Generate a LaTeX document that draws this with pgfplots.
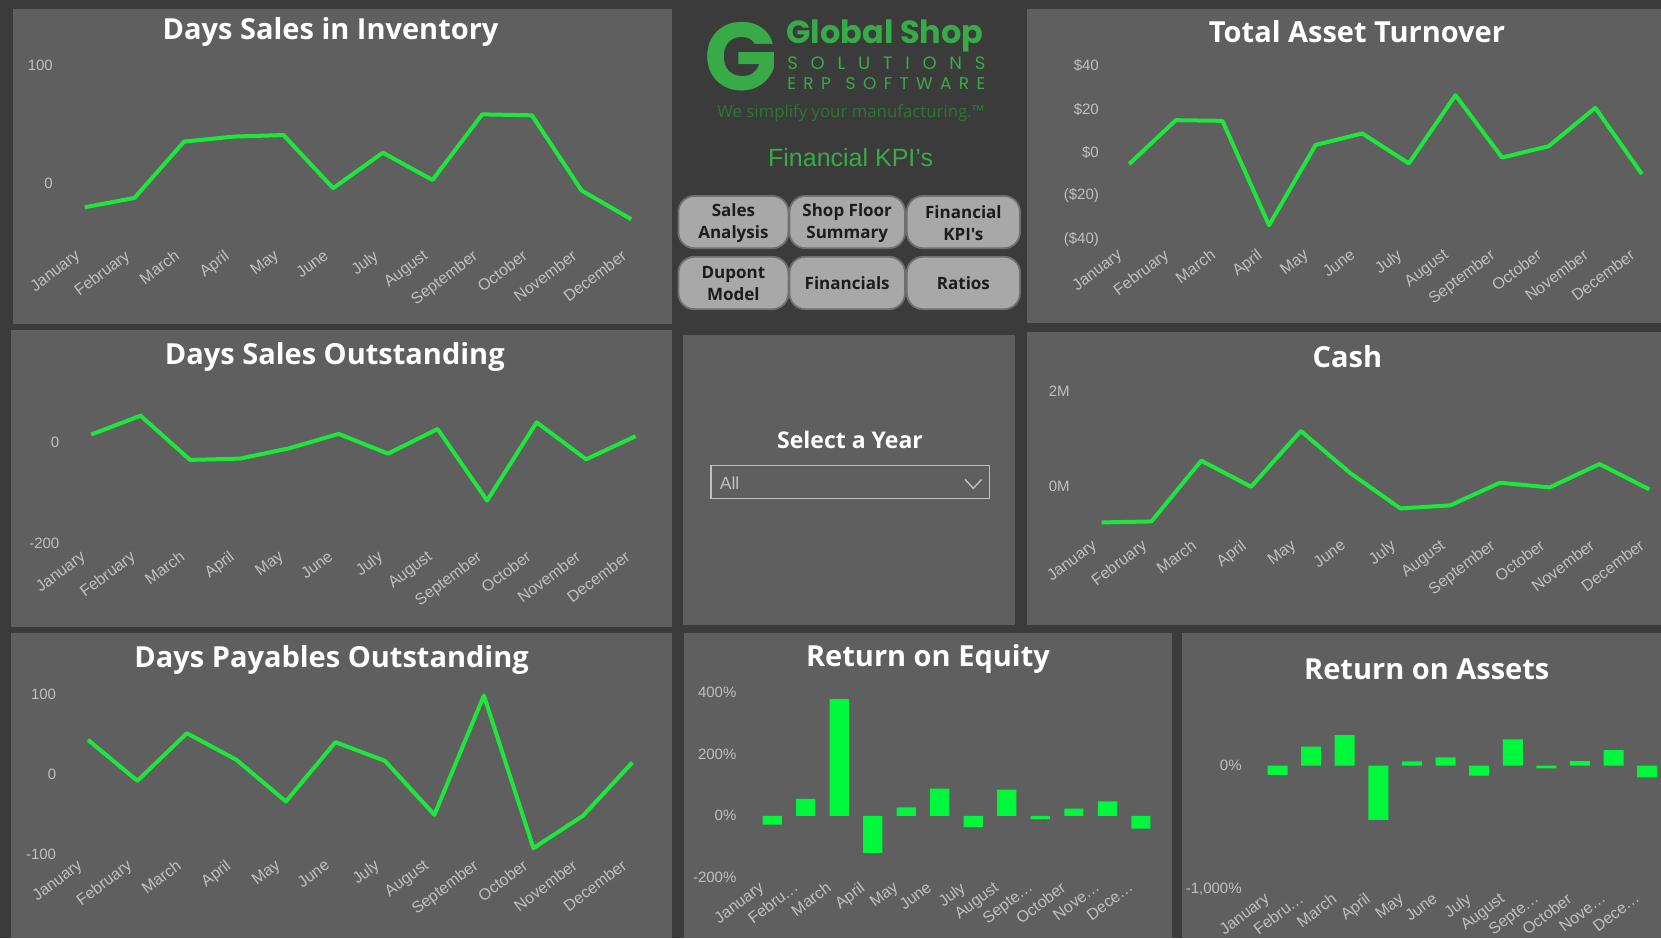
\documentclass[border=0pt]{standalone}
\usepackage{fontspec}
\setmainfont{Liberation Sans}
\newfontfamily\osans{Open Sans}
\newfontfamily\popp{Poppins}
\usepackage{pgfplots}
\pgfplotsset{compat=1.18}

\definecolor{bg}{RGB}{59,59,59}
\definecolor{panel}{RGB}{95,95,95}
\definecolor{kgreen}{RGB}{30,230,60}
\definecolor{kbar}{RGB}{0,248,60}
\definecolor{ticktxt}{RGB}{192,192,192}
\definecolor{logogreen}{RGB}{57,170,72}
\definecolor{taggreen}{RGB}{44,118,52}
\definecolor{btnfill}{RGB}{168,168,168}
\definecolor{btnedge}{RGB}{112,112,112}
\definecolor{btntxt}{RGB}{28,28,28}

\newcommand\tickf{\fontsize{7.5}{9}\selectfont}
\newcommand\xtickf{\fontsize{8}{9}\selectfont}
\newcommand\titf{\osans\bfseries\fontsize{14.5}{17}\selectfont}
\newcommand\btnf{\osans\bfseries\fontsize{8.5}{11}\selectfont}
\newcommand\dd{.\kern0.4pt.\kern0.4pt.}

\pgfplotsset{
 kpi/.style n args={2}{scale only axis, anchor=south west, clip=false,
   axis line style={draw=none}, tick style={draw=none}, major tick length=0pt,
   xmin=-0.5, xmax=11.5, xtick={0,...,11},
   xticklabels={January,February,March,April,May,June,July,August,September,October,November,December},
   ticklabel style={font=\tickf, text=ticktxt},
   xticklabel style={font=\xtickf, xshift=#1, yshift=#2, rotate=37, anchor=north east},
   yticklabel style={anchor=east},
 },
 kpibar/.style n args={2}{kpi={#1}{#2},
   xticklabels={January,Febru\dd,March,April,May,June,July,August,Septe\dd,October,Nove\dd,Dece\dd}},
 kl/.style={draw=kgreen, line width=2pt, line join=round, mark=none},
 kb/.style={ybar, bar width=9.6pt, fill=kbar, draw=none},
}

\begin{document}
\begin{tikzpicture}
\useasboundingbox (0,0) rectangle (830.5pt,469pt);
\fill[bg] (0,0) rectangle (830.5pt,469pt);
% panels
\fill[panel] (6.5pt,307pt) rectangle (336pt,464.5pt);
\fill[panel] (513.5pt,307.5pt) rectangle (830.5pt,464.5pt);
\fill[panel] (5.5pt,155.5pt) rectangle (336pt,304pt);
\fill[panel] (341.5pt,156.5pt) rectangle (507.5pt,301.5pt);
\fill[panel] (513.5pt,156.5pt) rectangle (830.5pt,303pt);
\fill[panel] (5.5pt,0pt) rectangle (336pt,152.5pt);
\fill[panel] (342pt,0pt) rectangle (586pt,152.5pt);
\fill[panel] (591pt,0pt) rectangle (830.5pt,152.5pt);

% titles
\node[text=white, font=\titf] at (165.3pt,453.1pt) {Days Sales in Inventory};
\node[text=white, font=\titf] at (678.5pt,453.1pt) {Total Asset Turnover};
\node[text=white, font=\titf] at (167.4pt,290.5pt) {Days Sales Outstanding};
\node[text=white, font=\titf] at (673.7pt,290.5pt) {Cash};
\node[text=white, font=\titf] at (165.8pt,139pt) {Days Payables Outstanding};
\node[text=white, font=\titf] at (464pt,139.5pt) {Return on Equity};
\node[text=white, font=\titf] at (713.4pt,134.2pt) {Return on Assets};

% logo
\node[text=logogreen, font=\popp\bfseries\fontsize{48}{48}\selectfont, inner sep=0] at (370.3pt,440.5pt) {G};
\node[anchor=base west, inner sep=0, text=logogreen, font=\popp\bfseries\fontsize{16}{16}\selectfont] at (393pt,447pt) {Global Shop};
\node[anchor=base west, inner sep=0, text=logogreen, font=\popp\fontsize{9}{9}\selectfont] at (393.5pt,434pt) {\makebox[99pt][s]{S\hfill O\hfill L\hfill U\hfill T\hfill I\hfill O\hfill N\hfill S}};
\node[anchor=base west, inner sep=0, text=logogreen, font=\popp\fontsize{8.5}{9}\selectfont] at (393.5pt,424pt) {\makebox[99pt][s]{E\hfill R\hfill P\hfill\hfill S\hfill O\hfill F\hfill T\hfill W\hfill A\hfill R\hfill E}};
\node[anchor=base west, inner sep=0, text=taggreen, font=\osans\fontsize{8.4}{9}\selectfont] at (358.5pt,410pt) {We simplify your manufacturing.™};
\node[text=logogreen, font=\fontsize{12.5}{14}\selectfont] at (425.3pt,390.1pt) {Financial KPI's};

% buttons
\begin{scope}[every path/.style={fill=btnfill, draw=btnedge, line width=0.9pt, rounded corners=8pt}]
\path (339.2pt,344.9pt) rectangle (394.2pt,371pt);
\path (394.7pt,344.9pt) rectangle (452.5pt,371pt);
\path (453.4pt,344.9pt) rectangle (510pt,371pt);
\path (339.2pt,314.4pt) rectangle (394.2pt,340.6pt);
\path (394.7pt,314.4pt) rectangle (452.5pt,340.6pt);
\path (453.4pt,314.4pt) rectangle (510pt,340.6pt);
\end{scope}
\node[align=center, text=btntxt, font=\btnf] at (366.7pt,357.4pt) {Sales\\Analysis};
\node[align=center, text=btntxt, font=\btnf] at (423.6pt,357.4pt) {Shop Floor\\Summary};
\node[align=center, text=btntxt, font=\btnf] at (481.7pt,357.4pt) {Financial\\KPI's};
\node[align=center, text=btntxt, font=\btnf] at (366.7pt,327pt) {Dupont\\Model};
\node[align=center, text=btntxt, font=\btnf] at (423.6pt,327.5pt) {Financials};
\node[align=center, text=btntxt, font=\btnf] at (481.7pt,327.5pt) {Ratios};

% slicer
\node[text=white, font=\osans\bfseries\fontsize{11.5}{13}\selectfont] at (425pt,249.3pt) {Select a Year};
\draw[ticktxt, line width=0.8pt] (355.5pt,219.7pt) rectangle (494.7pt,236.2pt);
\node[anchor=west, inner sep=0, text=ticktxt, font=\fontsize{8.8}{10}\selectfont] at (359.7pt,227.6pt) {All};
\draw[ticktxt, line width=0.7pt] (482.5pt,229.3pt) -- (486.65pt,224.8pt) -- (490.8pt,229.3pt);

% Days Sales in Inventory
\begin{axis}[kpi={-4.6pt}{-4.4pt}, at={(29.93pt,353.85pt)}, width=298.15pt, height=82.3pt,
  ymin=-40, ymax=100, ytick={0,100}, yticklabels={0,100}]
\addplot[kl] coordinates {(0,-20.4)(1,-12.5)(2,35.4)(3,39.7)(4,41)(5,-4.2)(6,26)(7,2.8)(8,58.6)(9,57.8)(10,-6.2)(11,-30.6)};
\end{axis}

% Total Asset Turnover
\begin{axis}[kpi={-5.8pt}{0.5pt}, at={(552.95pt,349.3pt)}, width=279.65pt, height=86.85pt,
  ymin=-40, ymax=40, ytick={-40,-20,0,20,40}, yticklabels={(\$40),(\$20),\$0,\$20,\$40}]
\addplot[kl] coordinates {(0,-5.3)(1,14.9)(2,14.6)(3,-33.5)(4,3.5)(5,8.8)(6,-5)(7,26.4)(8,-2.3)(9,2.9)(10,20.6)(11,-9.9)};
\end{axis}

% Days Sales Outstanding
\begin{axis}[kpi={-5pt}{1.7pt}, at={(33.18pt,197.3pt)}, width=297pt, height=75.45pt,
  ymin=-200, ymax=100, ytick={-200,0}, yticklabels={-200,0}]
\addplot[kl] coordinates {(0,16.4)(1,53.8)(2,-34)(3,-31.5)(4,-11)(5,17.7)(6,-21.6)(7,27.5)(8,-114.8)(9,40.7)(10,-32.8)(11,13.1)};
\end{axis}

% Cash (millions)
\begin{axis}[kpi={-4.7pt}{2.9pt}, at={(538.4pt,201.7pt)}, width=298.7pt, height=71.8pt,
  ymin=-1, ymax=2, ytick={0,2}, yticklabels={0M,2M}]
\addplot[kl] coordinates {(0,-0.746)(1,-0.725)(2,0.544)(3,0)(4,1.164)(5,0.279)(6,-0.453)(7,-0.39)(8,0.084)(9,-0.014)(10,0.474)(11,-0.056)};
\end{axis}

% Days Payables Outstanding
\begin{axis}[kpi={-5.1pt}{2.8pt}, at={(31.58pt,41.85pt)}, width=297pt, height=80.15pt,
  ymin=-100, ymax=100, ytick={-100,0,100}, yticklabels={-100,0,100}]
\addplot[kl] coordinates {(0,42.8)(1,-8.3)(2,51.1)(3,17.9)(4,-34.1)(5,39.9)(6,16.6)(7,-50.7)(8,98.1)(9,-92.3)(10,-52)(11,14.6)};
\end{axis}

% Return on Equity
\begin{axis}[kpibar={-6.3pt}{3.1pt}, at={(377.72pt,30.35pt)}, width=201.1pt, height=92.3pt,
  ymin=-200, ymax=400, ytick={-200,0,200,400}, yticklabels={-200\%,0\%,200\%,400\%},
  yticklabel style={xshift=-6pt}]
\addplot[kb] coordinates {(0,-29)(1,55)(2,379)(3,-121)(4,27)(5,88)(6,-37)(7,85)(8,-11)(9,23)(10,47)(11,-42)};
\end{axis}

% Return on Assets
\begin{axis}[kpibar={-6.3pt}{3.5pt}, at={(630.35pt,24.35pt)}, width=201.65pt, height=92.7pt,
  ymin=-1000, ymax=500, ytick={-1000,0}, yticklabels={-1{,}000\%,0\%},
  yticklabel style={xshift=-6pt}]
\addplot[kb, bar width=10pt] coordinates {(0,-75)(1,154)(2,248)(3,-439)(4,35)(5,67)(6,-81)(7,213)(8,-22)(9,38)(10,127)(11,-94)};
\end{axis}
\end{tikzpicture}
\end{document}
